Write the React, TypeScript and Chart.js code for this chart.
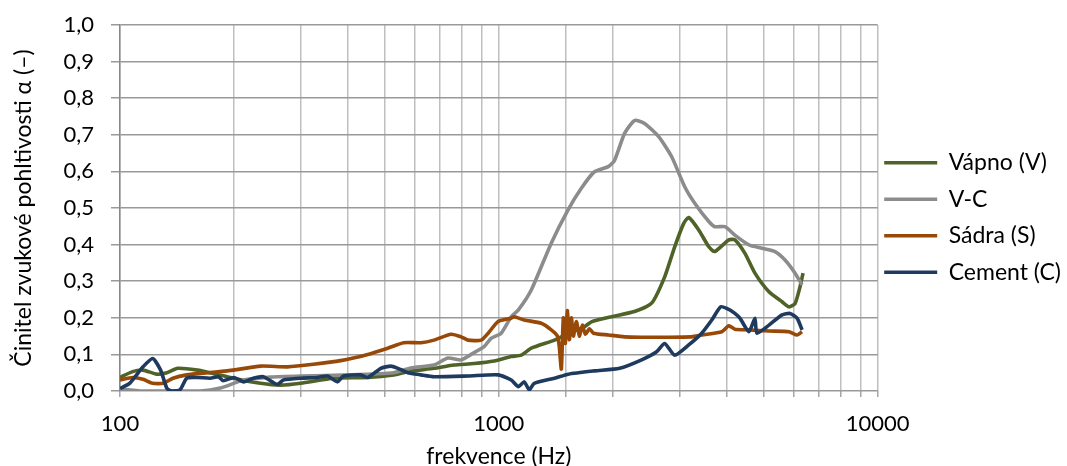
import React, { useEffect, useRef } from "react";
import { Chart, registerables } from "chart.js";

Chart.register(...registerables);

// Vápno (V)
const vapnoFreq = [100, 108, 115, 125, 133, 142, 160, 176, 199, 235, 265, 300, 366, 451, 528, 575, 674, 761, 860, 972, 1078, 1146, 1218, 1403, 1528, 1684, 1755, 1983, 2281, 2531, 2740, 2912, 3076, 3171, 3370, 3583, 3715, 4047, 4198, 4463, 4742, 5164, 5591, 5834, 6052, 6238, 6353];
const vapnoAlpha = [0.037, 0.053, 0.057, 0.046, 0.05, 0.062, 0.057, 0.048, 0.035, 0.021, 0.016, 0.021, 0.035, 0.037, 0.044, 0.053, 0.062, 0.071, 0.075, 0.082, 0.094, 0.098, 0.117, 0.139, 0.158, 0.176, 0.189, 0.203, 0.217, 0.24, 0.312, 0.394, 0.458, 0.474, 0.44, 0.394, 0.381, 0.413, 0.413, 0.376, 0.322, 0.271, 0.244, 0.23, 0.239, 0.285, 0.322];

// V-C
const vcFreq = [100, 110, 113, 163, 184, 212, 250, 300, 406, 528, 586, 674, 734, 795, 845, 914, 954, 1014, 1078, 1125, 1218, 1375, 1523, 1651, 1788, 1944, 2020, 2147, 2281, 2425, 2642, 2859, 3095, 3289, 3583, 3715, 3950, 4198, 4572, 4949, 5357, 5693, 6052, 6314];
const vcAlpha = [0.006, 0.001, 0.0, 0.0, 0.008, 0.03, 0.038, 0.041, 0.044, 0.05, 0.063, 0.071, 0.09, 0.085, 0.1, 0.121, 0.144, 0.158, 0.203, 0.221, 0.276, 0.404, 0.495, 0.554, 0.599, 0.613, 0.63, 0.704, 0.739, 0.731, 0.695, 0.64, 0.558, 0.513, 0.463, 0.449, 0.449, 0.426, 0.399, 0.39, 0.381, 0.358, 0.322, 0.29];

// Sádra (S)
const sadraFreq = [100, 108, 115, 122, 130, 138, 150, 170, 199, 235, 277, 324, 382, 451, 509, 561, 623, 674, 748, 795, 829, 898, 937, 996, 1078, 1098, 1167, 1294, 1375, 1427, 1444, 1462, 1480, 1498, 1516, 1535, 1554, 1573, 1602, 1631, 1661, 1692, 1734, 1777, 1948, 2147, 2382, 2740, 3229, 3432, 3878, 4047, 4198, 4572, 5164, 5834, 6126, 6314];
const sadraAlpha = [0.03, 0.037, 0.032, 0.021, 0.021, 0.035, 0.044, 0.05, 0.057, 0.068, 0.066, 0.073, 0.083, 0.1, 0.117, 0.132, 0.132, 0.139, 0.155, 0.148, 0.139, 0.139, 0.158, 0.19, 0.199, 0.203, 0.194, 0.185, 0.167, 0.15, 0.12, 0.06, 0.2, 0.13, 0.22, 0.14, 0.2, 0.15, 0.19, 0.15, 0.18, 0.155, 0.17, 0.158, 0.153, 0.148, 0.147, 0.147, 0.148, 0.153, 0.162, 0.178, 0.169, 0.167, 0.164, 0.162, 0.153, 0.162];

// Cement (C)
const cementFreq = [100, 106, 115, 122, 128, 133, 137, 144, 150, 160, 173, 182, 187, 200, 212, 225, 239, 260, 270, 300, 332, 353, 375, 389, 432, 451, 488, 519, 541, 575, 623, 674, 829, 996, 1078, 1125, 1167, 1203, 1240, 1403, 1526, 1788, 2084, 2382, 2609, 2740, 2912, 3171, 3432, 3648, 3854, 4047, 4198, 4328, 4572, 4742, 4799, 5164, 5591, 5869, 6126, 6314];
const cementAlpha = [0.007, 0.021, 0.066, 0.089, 0.057, 0.007, 0.0, 0.003, 0.035, 0.037, 0.035, 0.039, 0.028, 0.037, 0.025, 0.035, 0.039, 0.018, 0.03, 0.035, 0.037, 0.041, 0.025, 0.041, 0.044, 0.037, 0.062, 0.068, 0.062, 0.05, 0.044, 0.039, 0.041, 0.044, 0.03, 0.012, 0.025, 0.003, 0.021, 0.035, 0.046, 0.055, 0.062, 0.085, 0.107, 0.13, 0.098, 0.126, 0.158, 0.194, 0.23, 0.223, 0.212, 0.199, 0.162, 0.199, 0.158, 0.18, 0.208, 0.212, 0.199, 0.167];

const seriesNames = ["Vápno (V)", "V-C", "Sádra (S)", "Cement (C)"];
const seriesColors = ["#4f6228", "#8c8c8c", "#984807", "#1f3a5f"];
const xTickLabels = [100, 1000, 10000];

const FONT = "Lato, 'Open Sans', sans-serif";

function toPoints(xs: number[], ys: number[]) {
  return xs.map((x, i) => ({ x, y: ys[i] }));
}

const legendShift = {
  id: "legendShift",
  afterLayout(chart: any) {
    const l = chart.legend;
    if (l) {
      l.top -= 28;
      l.bottom -= 28;
      l.left -= 7;
      l.right -= 7;
    }
  },
};

export default function App() {
  const canvasRef = useRef<HTMLCanvasElement | null>(null);

  useEffect(() => {
    const canvas = canvasRef.current;
    if (!canvas) return;
    const allData = [
      toPoints(vapnoFreq, vapnoAlpha),
      toPoints(vcFreq, vcAlpha),
      toPoints(sadraFreq, sadraAlpha),
      toPoints(cementFreq, cementAlpha),
    ];
    const chart = new Chart(canvas, {
      type: "line",
      data: {
        datasets: allData.map((d, i) => ({
          label: seriesNames[i],
          data: d,
          borderColor: seriesColors[i],
          backgroundColor: seriesColors[i],
          borderWidth: 3.6,
          pointRadius: 0,
          tension: 0.2,
          fill: false,
          order: 3 - i,
        })),
      },
      plugins: [legendShift],
      options: {
        animation: false,
        responsive: false,
        maintainAspectRatio: false,
        layout: { padding: { left: 0, right: -11, top: 25, bottom: 0 } },
        plugins: {
          tooltip: { enabled: false },
          legend: {
            position: "right",
            labels: {
              color: "#000",
              font: { family: FONT, size: 23 },
              boxWidth: 53,
              boxHeight: 3.5,
              padding: 13.5,
              sort: (a: any, b: any) => a.datasetIndex - b.datasetIndex,
              generateLabels: (ch: any) => {
                const items = Chart.defaults.plugins.legend.labels.generateLabels(ch);
                return items.map((it: any) => ({ ...it, lineWidth: 0 }));
              },
            },
          },
        },
        scales: {
          x: {
            type: "logarithmic",
            min: 100,
            max: 10000,
            grid: {
              color: "#bfbfbf",
              lineWidth: 1.5,
              tickLength: 6,
              tickColor: "#a6a6a6",
            },
            border: { display: false },
            ticks: {
              autoSkip: false,
              maxRotation: 0,
              padding: 14,
              color: "#000",
              font: { family: FONT, size: 22 },
              callback: (v: any) => (xTickLabels.includes(Number(v)) ? String(Number(v)) : ""),
            },
            title: {
              display: true,
              text: "frekvence (Hz)",
              color: "#000",
              font: { family: FONT, size: 23 },
              padding: { top: 0, bottom: -4 },
            },
            afterFit: (s: any) => {
              s.height = 75;
              s.paddingLeft = 0;
              s.paddingRight = 0;
            },
          },
          y: {
            min: 0,
            max: 1,
            grid: {
              color: "#999999",
              lineWidth: 1.5,
              tickLength: 9,
              tickColor: "#999999",
            },
            border: { display: true, color: "#888888", width: 1.5 },
            ticks: {
              stepSize: 0.1,
              padding: 17,
              color: "#000",
              font: { family: FONT, size: 22 },
              callback: (v: any) => Number(v).toFixed(1).replace(".", ","),
            },
            title: {
              display: true,
              text: "Činitel zvukové pohltivosti α (–)",
              color: "#000",
              font: { family: FONT, size: 23 },
              padding: { top: 10, bottom: 0 },
            },
            afterFit: (s: any) => {
              s.width = 120;
              s.paddingTop = 0;
              s.paddingBottom = 0;
            },
          },
        },
      },
    });
    return () => chart.destroy();
  }, []);

  return (
    <div style={{ position: "fixed", left: 0, top: 0, width: 1067, height: 466, background: "#fff" }}>
      <canvas ref={canvasRef} width={1067} height={466} style={{ width: 1067, height: 466 }} />
    </div>
  );
}
